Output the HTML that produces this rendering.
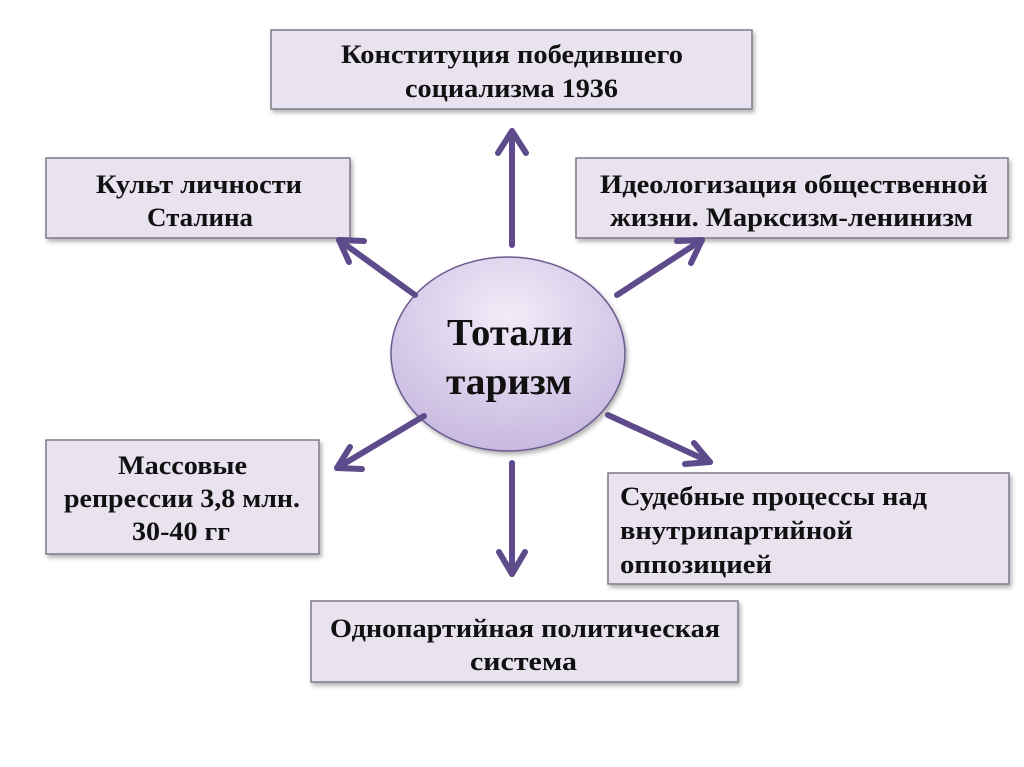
<!DOCTYPE html>
<html><head><meta charset="utf-8"><style>
html,body{margin:0;padding:0;background:#fff;}
svg{display:block}
text{font-family:"Liberation Serif","Noto Serif CJK SC",serif;font-weight:bold;fill:#111;}
</style></head><body>
<svg width="1024" height="767" viewBox="0 0 1024 767" xmlns="http://www.w3.org/2000/svg">
<defs>
<filter id="sh" x="-10%" y="-10%" width="120%" height="130%"><feDropShadow dx="2" dy="3" stdDeviation="2" flood-color="#000" flood-opacity="0.3"/></filter>
<radialGradient id="eg" cx="50%" cy="30%" r="70%"><stop offset="0" stop-color="#f1ecf8"/><stop offset="1" stop-color="#c8b9e0"/></radialGradient>
</defs>
<g fill="#e8e3ef" stroke="#7e7888" stroke-width="1.5" filter="url(#sh)">
<rect x="271" y="30" width="481" height="79"/>
<rect x="46" y="158" width="304" height="80"/>
<rect x="576" y="158" width="432" height="80"/>
<rect x="46" y="440" width="273" height="114"/>
<rect x="608" y="473" width="401" height="111"/>
<rect x="311" y="601" width="427" height="81"/>
</g>
<ellipse cx="508" cy="354" rx="117" ry="97" fill="url(#eg)" stroke="#6b5a8f" stroke-width="1.5" filter="url(#sh)"/>
<g stroke="#5e4b8b" stroke-width="6" fill="none" stroke-linecap="round" stroke-linejoin="round">
<line x1="512" y1="245" x2="512" y2="131"/><polyline points="498,153 512,131 526,153"/>
<line x1="415" y1="295" x2="339" y2="240"/><polyline points="364,241 339,240 349,262"/>
<line x1="617" y1="295" x2="702" y2="240"/><polyline points="677,241 702,240 691,263"/>
<line x1="424" y1="416" x2="337" y2="468"/><polyline points="350,447 337,468 362,469"/>
<line x1="608" y1="415" x2="710" y2="462"/><polyline points="694,443 710,462 685,464"/>
<line x1="512" y1="463" x2="512" y2="574"/><polyline points="499,552 512,574 525,552"/>
</g>
<g font-size="26" lengthAdjust="spacingAndGlyphs">
<text x="341" y="63" textLength="342" lengthAdjust="spacingAndGlyphs">Конституция победившего</text>
<text x="405" y="97" textLength="213" lengthAdjust="spacingAndGlyphs">социализма 1936</text>
<text x="96" y="193" textLength="206" lengthAdjust="spacingAndGlyphs">Культ личности</text>
<text x="147" y="226" textLength="106" lengthAdjust="spacingAndGlyphs">Сталина</text>
<text x="600" y="193" textLength="388" lengthAdjust="spacingAndGlyphs">Идеологизация общественной</text>
<text x="610" y="226" textLength="363" lengthAdjust="spacingAndGlyphs">жизни. Марксизм-ленинизм</text>
<text x="118" y="474" textLength="129" lengthAdjust="spacingAndGlyphs">Массовые</text>
<text x="64" y="507" textLength="236" lengthAdjust="spacingAndGlyphs">репрессии 3,8 млн.</text>
<text x="132" y="540" textLength="98" lengthAdjust="spacingAndGlyphs">30-40 гг</text>
<text x="620" y="505" textLength="307" lengthAdjust="spacingAndGlyphs">Судебные процессы над</text>
<text x="620" y="539" textLength="233" lengthAdjust="spacingAndGlyphs">внутрипартийной</text>
<text x="620" y="573" textLength="152" lengthAdjust="spacingAndGlyphs">оппозицией</text>
<text x="330" y="637" textLength="390" lengthAdjust="spacingAndGlyphs">Однопартийная политическая</text>
<text x="470" y="670" textLength="107" lengthAdjust="spacingAndGlyphs">система</text>
</g>
<g font-size="38">
<text x="447" y="345" textLength="126" lengthAdjust="spacingAndGlyphs">Тотали</text>
<text x="446" y="394" textLength="126" lengthAdjust="spacingAndGlyphs">таризм</text>
</g>
</svg>
</body></html>
